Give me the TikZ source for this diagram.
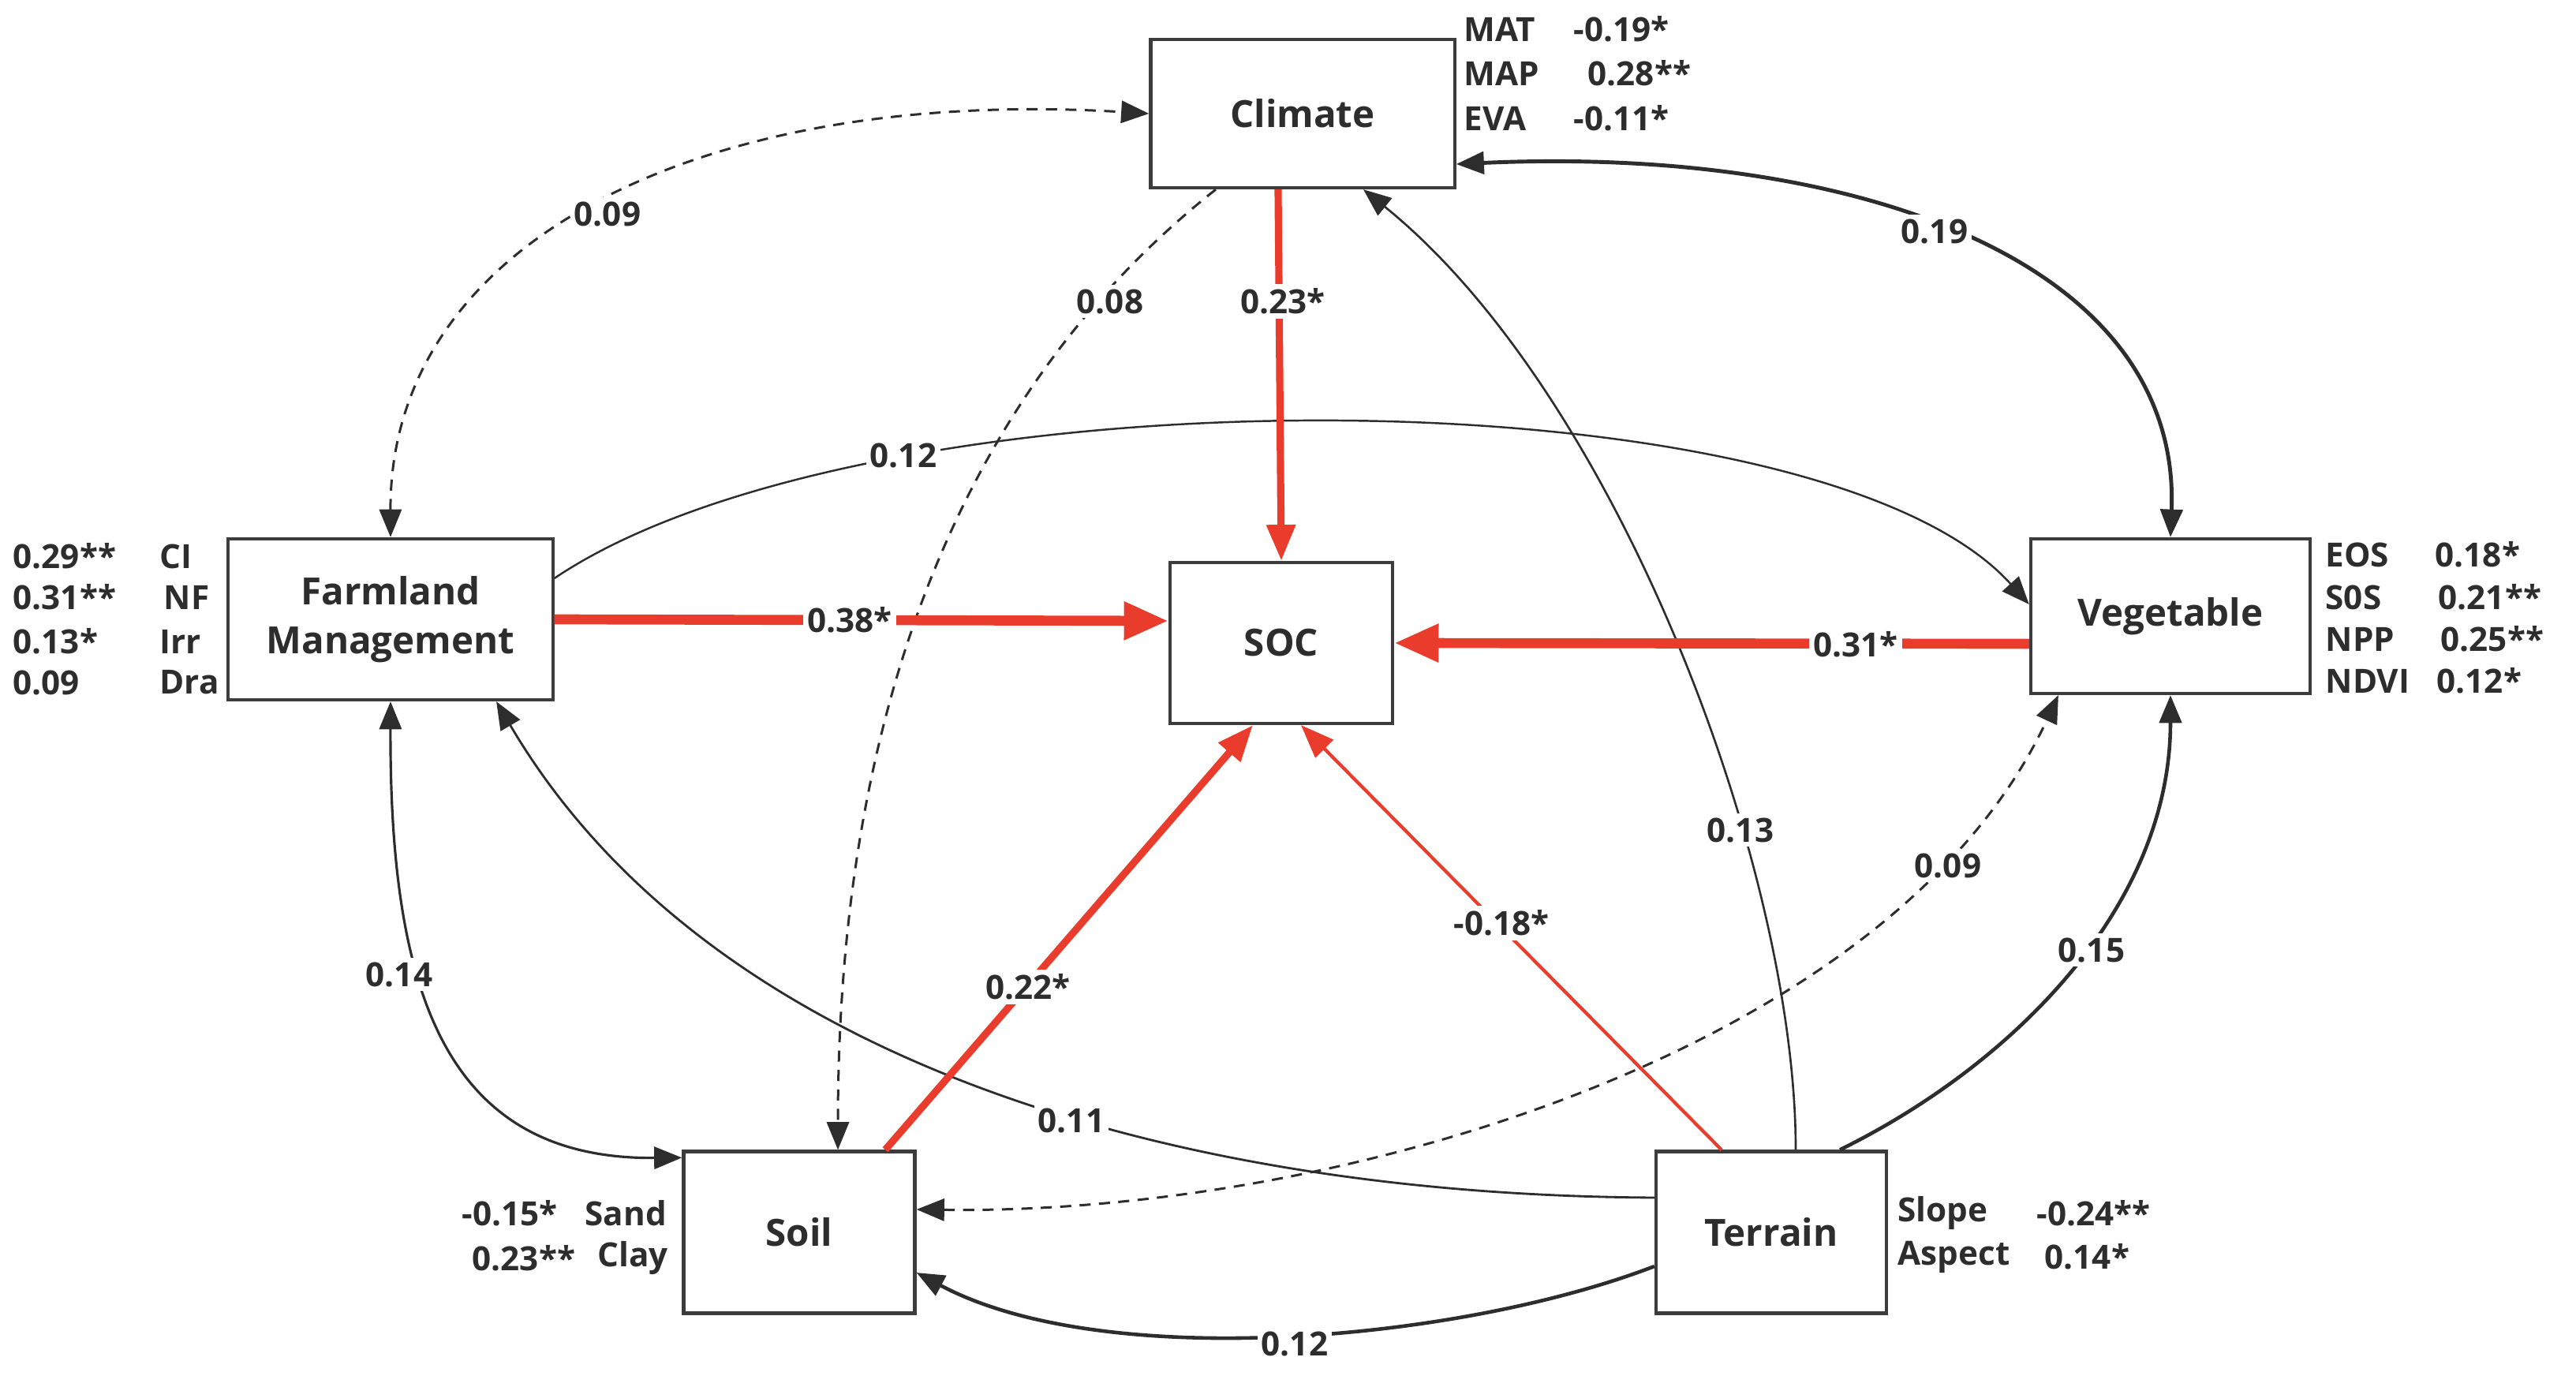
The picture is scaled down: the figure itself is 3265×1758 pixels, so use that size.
\documentclass[tikz,border=0pt]{standalone}
\usepackage{fontspec}
\setmainfont{Open Sans}
\usetikzlibrary{arrows.meta,calc}
\definecolor{socred}{RGB}{233,60,45}
\definecolor{ink}{RGB}{45,45,45}
\definecolor{boxline}{RGB}{60,60,60}
\begin{document}
\begin{tikzpicture}[x=0.01cm,y=-0.01cm,
  box/.style={draw=boxline,line width=1.2pt,fill=white,inner sep=0pt,align=center,
    font=\fontsize{13.5}{17.5}\selectfont\bfseries,text=ink},
  lab/.style={fill=white,inner sep=1.5pt,font=\fontsize{12}{14}\selectfont\bfseries,text=ink},
  side/.style={anchor=west,inner sep=0pt,font=\fontsize{12}{14}\selectfont\bfseries,text=ink},
  bigred/.style={draw=socred,line width=3.6pt,-{Triangle[length=16pt,width=13pt]}},
  midred/.style={draw=socred,line width=2.6pt,-{Triangle[length=13pt,width=10pt]}},
  thinred/.style={draw=socred,line width=1.2pt,-{Triangle[length=12pt,width=9pt]}},
  conn/.style={draw=ink,line width=#1},
  tipend/.style={-{Triangle[length=10pt,width=8pt]}},
  tipboth/.style={{Triangle[length=10pt,width=8pt]}-{Triangle[length=10pt,width=8pt]}},
  dsh/.style={draw=ink,line width=0.85pt,dash pattern=on 4pt off 3pt},
]
\useasboundingbox (0,0) rectangle (3265,1758);

% boxes
\node[box,minimum width=3.85cm,minimum height=1.88cm] (climate) at (1651,144) {Climate};
\node[box,minimum width=4.11cm,minimum height=2.04cm] (farm) at (495,785) {Farmland\\Management};
\node[box,minimum width=2.82cm,minimum height=2.04cm] (soc) at (1624,815) {SOC};
\node[box,minimum width=3.54cm,minimum height=1.96cm] (veg) at (2751,781) {Vegetable};
\node[box,minimum width=2.93cm,minimum height=2.05cm] (soil) at (1013,1562) {Soil};
\node[box,minimum width=2.92cm,minimum height=2.05cm] (terrain) at (2245,1562) {Terrain};

% black / dashed connectors
\draw[conn=1.4pt,tipboth] ([yshift=-0.64cm]climate.east) .. controls (2350,185) and (2765,330) .. (veg.north);
\draw[dsh,tipboth] (farm.north) .. controls (494,300) and (900,110) .. (climate.west);
\draw[dsh,tipend] ([xshift=-1.10cm]climate.south) .. controls (1250,470) and (1062,850) .. ([xshift=0.49cm]soil.north);
\draw[conn=0.75pt,tipend] ([xshift=0.31cm]terrain.north) .. controls (2276,1100) and (2050,500) .. ([xshift=0.77cm]climate.south);
\draw[conn=0.7pt,tipend] ([yshift=0.52cm]farm.east) .. controls (1100,465) and (2300,465) .. ([yshift=0.15cm]veg.west);
\draw[conn=0.9pt,tipboth] (farm.south) .. controls (494,1250) and (560,1470) .. ([yshift=-0.1cm]soil.north west);
\draw[conn=0.8pt,tipend] ([yshift=0.44cm]terrain.west) .. controls (1500,1515) and (900,1350) .. ([xshift=1.34cm]farm.south);
\draw[dsh,tipboth] ([yshift=0.29cm]soil.east) .. controls (1700,1540) and (2400,1330) .. ([xshift=-1.42cm]veg.south);
\draw[conn=1.3pt,tipend] ([xshift=0.87cm]terrain.north) .. controls (2550,1350) and (2751,1150) .. (veg.south);
\draw[conn=1.3pt,tipend] ([yshift=-0.43cm]terrain.west) .. controls (1850,1700) and (1400,1740) .. ([yshift=-0.51cm]soil.east);

% red connectors
\draw[bigred] (farm.east) -- ([yshift=0.28cm]soc.west);
\draw[bigred] ([yshift=-0.35cm]veg.west) -- (soc.east);
\draw[midred] ([xshift=-0.31cm]climate.south) -- (soc.north);
\draw[midred] ([xshift=1.09cm]soil.north) -- ([xshift=-0.36cm]soc.south);
\draw[thinred] ([xshift=-0.63cm]terrain.north) -- ([xshift=0.25cm]soc.south);

% path labels
\node[lab] (l1) at (1077,786) {0.38*};
\node[lab] (l2) at (2352,817) {0.31*};
\node[lab] (l3) at (1626,382) {0.23*};
\node[lab] (l4) at (1407,382) {0.08};
\node[lab] (l5) at (2452,293) {0.19};
\node[lab] (l6) at (2469,1097) {0.09};
\node[lab] (l7) at (2206,1052) {0.13};
\node[lab] (l8) at (770,271) {0.09};
\node[lab] (l9) at (1145,577) {0.12};
\node[lab] (l10) at (506,1235) {0.14};
\node[lab] (l11) at (1303,1251) {0.22*};
\node[lab] (l12) at (1903,1170) {-0.18*};
\node[lab] (l13) at (1358,1420) {0.11};
\node[lab] (l14) at (2651,1204) {0.15};
\node[lab] (l15) at (1641,1703) {0.12};

% side texts: climate
\node[side] (c1) at (1855,37) {MAT};
\node[side] (c1v) at (1994,37) {-0.19*};
\node[side] (c2) at (1855,93) {MAP};
\node[side] (c2v) at (2012,93) {0.28**};
\node[side] (c3) at (1855,150) {EVA};
\node[side] (c3v) at (1994,150) {-0.11*};
% farmland
\node[side] (f1v) at (16,705) {0.29**};
\node[side] (f1) at (202,705) {CI};
\node[side] (f2v) at (16,757) {0.31**};
\node[side] (f2) at (207,757) {NF};
\node[side] (f3v) at (16,813) {0.13*};
\node[side] (f3) at (202,813) {Irr};
\node[side] (f4v) at (16,865) {0.09};
\node[side] (f4) at (202,865) {Dra};
% vegetable
\node[side] (v1) at (2947,703) {EOS};
\node[side] (v1v) at (3086,703) {0.18*};
\node[side] (v2) at (2947,757) {S0S};
\node[side] (v2v) at (3090,757) {0.21**};
\node[side] (v3) at (2947,810) {NPP};
\node[side] (v3v) at (3093,810) {0.25**};
\node[side] (v4) at (2947,863) {NDVI};
\node[side] (v4v) at (3088,863) {0.12*};
% soil
\node[side] (s1v) at (585,1538) {-0.15*};
\node[side] (s1) at (741,1538) {Sand};
\node[side] (s2v) at (598,1595) {0.23**};
\node[side] (s2) at (757,1595) {Clay};
% terrain
\node[side] (t1) at (2405,1538) {Slope};
\node[side] (t1v) at (2581,1538) {-0.24**};
\node[side] (t2) at (2405,1593) {Aspect};
\node[side] (t2v) at (2591,1593) {0.14*};
\end{tikzpicture}
\end{document}
